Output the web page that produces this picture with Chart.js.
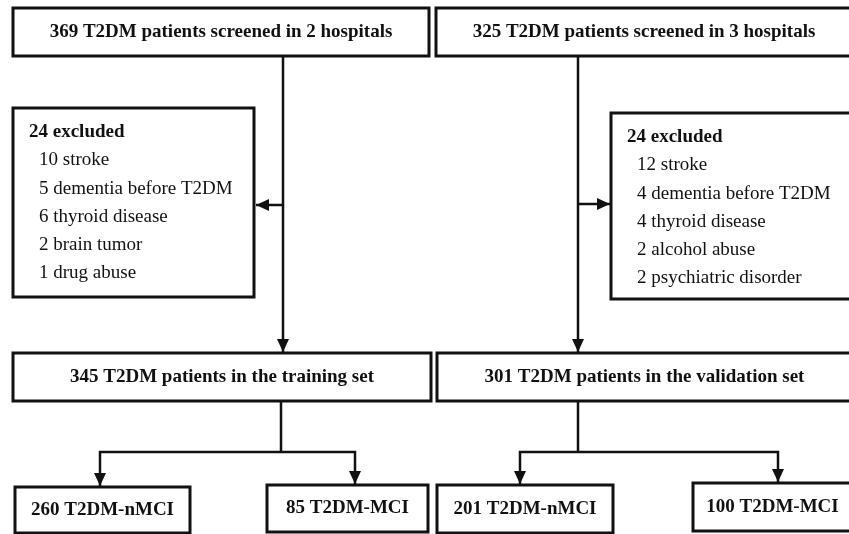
<!DOCTYPE html>
<html>
<head>
<meta charset="utf-8">
<script src="https://cdn.jsdelivr.net/npm/chart.js@4/dist/chart.umd.min.js"></script>
<style>
  html, body { margin: 0; padding: 0; background: #ffffff; }
  #flow { display: block; }
</style>
</head>
<body>
<canvas id="flow" width="849" height="534"></canvas>
<script>
// text of the flow diagram
const screenedLabels = [
  "369 T2DM patients screened in 2 hospitals",
  "325 T2DM patients screened in 3 hospitals"
];
const excludedTotals = [24, 24];
const excludedReasons = [
  ["10 stroke", "5 dementia before T2DM", "6 thyroid disease", "2 brain tumor", "1 drug abuse"],
  ["12 stroke", "4 dementia before T2DM", "4 thyroid disease", "2 alcohol abuse", "2 psychiatric disorder"]
];
const setLabels = [
  "345 T2DM patients in the training set",
  "301 T2DM patients in the validation set"
];
const groupLabels = ["260 T2DM-nMCI", "85 T2DM-MCI", "201 T2DM-nMCI", "100 T2DM-MCI"];

// layout in figure units: x 0-849 left to right, y 0-534 top to bottom
const screenedBoxes = [[13, 8, 429, 56], [436, 8, 852, 56]];
const excludedBoxes = [[13, 108, 254, 297], [611, 113, 852, 299]];
const setBoxes = [[13, 353, 431, 401], [437, 353, 852, 401]];
const groupBoxes = [[15, 487, 190, 533], [267, 485, 428, 532], [437, 485, 613, 533], [693, 483, 852, 531]];

const connectors = [
  { points: [[283, 56], [283, 352]], arrow: true },
  { points: [[283, 205], [256, 205]], arrow: true },
  { points: [[578, 56], [578, 352]], arrow: true },
  { points: [[578, 204], [610, 204]], arrow: true },
  { points: [[281, 401], [281, 452]], arrow: false },
  { points: [[281, 452], [100, 452], [100, 486]], arrow: true },
  { points: [[281, 452], [355, 452], [355, 484]], arrow: true },
  { points: [[578, 401], [578, 452]], arrow: false },
  { points: [[578, 452], [520, 452], [520, 484]], arrow: true },
  { points: [[578, 452], [778, 452], [778, 482]], arrow: true }
];

const SERIF = "'Liberation Serif', 'Times New Roman', serif";

function boxDataset(box) {
  const [x1, y1, x2, y2] = box;
  return {
    data: [
      { x: x1, y: y1 }, { x: x2, y: y1 }, { x: x2, y: y2 }, { x: x1, y: y2 }, { x: x1, y: y1 }
    ],
    showLine: true,
    fill: false,
    borderColor: "#111111",
    borderWidth: 3,
    borderJoinStyle: "miter",
    borderCapStyle: "square",
    pointRadius: 0,
    tension: 0
  };
}

function connectorDataset(connector) {
  return {
    data: connector.points.map(([x, y]) => ({ x, y })),
    showLine: true,
    fill: false,
    borderColor: "#111111",
    borderWidth: 2.5,
    borderJoinStyle: "miter",
    pointRadius: 0,
    tension: 0,
    arrow: connector.arrow
  };
}

const allBoxes = [...screenedBoxes, ...excludedBoxes, ...setBoxes, ...groupBoxes];

const arrowPlugin = {
  id: "arrowHeads",
  afterDatasetsDraw(chart) {
    const ctx = chart.ctx;
    chart.data.datasets.forEach((dataset, index) => {
      if (!dataset.arrow) return;
      const points = chart.getDatasetMeta(index).data;
      const tip = points[points.length - 1];
      const prev = points[points.length - 2];
      const angle = Math.atan2(tip.y - prev.y, tip.x - prev.x);
      const length = 13;
      const half = 6;
      ctx.save();
      ctx.translate(tip.x, tip.y);
      ctx.rotate(angle);
      ctx.beginPath();
      ctx.moveTo(0, 0);
      ctx.lineTo(-length, -half);
      ctx.lineTo(-length, half);
      ctx.closePath();
      ctx.fillStyle = "#111111";
      ctx.fill();
      ctx.restore();
    });
  }
};

const textPlugin = {
  id: "boxText",
  afterDraw(chart) {
    const ctx = chart.ctx;
    const sx = chart.scales.x;
    const sy = chart.scales.y;
    ctx.save();
    ctx.fillStyle = "#111111";
    ctx.textBaseline = "middle";

    function centered(label, box) {
      const [x1, y1, x2, y2] = box;
      ctx.font = `bold 19px ${SERIF}`;
      ctx.textAlign = "center";
      ctx.fillText(label, sx.getPixelForValue((x1 + x2) / 2), sy.getPixelForValue((y1 + y2) / 2));
    }

    screenedLabels.forEach((label, i) => centered(label, screenedBoxes[i]));
    setLabels.forEach((label, i) => centered(label, setBoxes[i]));
    groupLabels.forEach((label, i) => centered(label, groupBoxes[i]));

    excludedBoxes.forEach((box, i) => {
      const [x1, y1] = box;
      ctx.textAlign = "left";
      ctx.font = `bold 19px ${SERIF}`;
      ctx.fillText(`${excludedTotals[i]} excluded`, sx.getPixelForValue(x1 + 16), sy.getPixelForValue(y1 + 24));
      ctx.font = `19px ${SERIF}`;
      excludedReasons[i].forEach((reason, j) => {
        ctx.fillText(reason, sx.getPixelForValue(x1 + 26), sy.getPixelForValue(y1 + 52.5 + j * 28.2));
      });
    });
    ctx.restore();
  }
};

new Chart(document.getElementById("flow"), {
  type: "scatter",
  data: {
    datasets: [
      ...allBoxes.map(boxDataset),
      ...connectors.map(connectorDataset)
    ]
  },
  options: {
    responsive: false,
    animation: false,
    devicePixelRatio: 1,
    layout: { padding: 0 },
    plugins: {
      legend: { display: false },
      tooltip: { enabled: false }
    },
    scales: {
      x: { type: "linear", min: 0, max: 849, display: false },
      y: { type: "linear", min: 0, max: 534, reverse: true, display: false }
    }
  },
  plugins: [arrowPlugin, textPlugin]
});
</script>
</body>
</html>
